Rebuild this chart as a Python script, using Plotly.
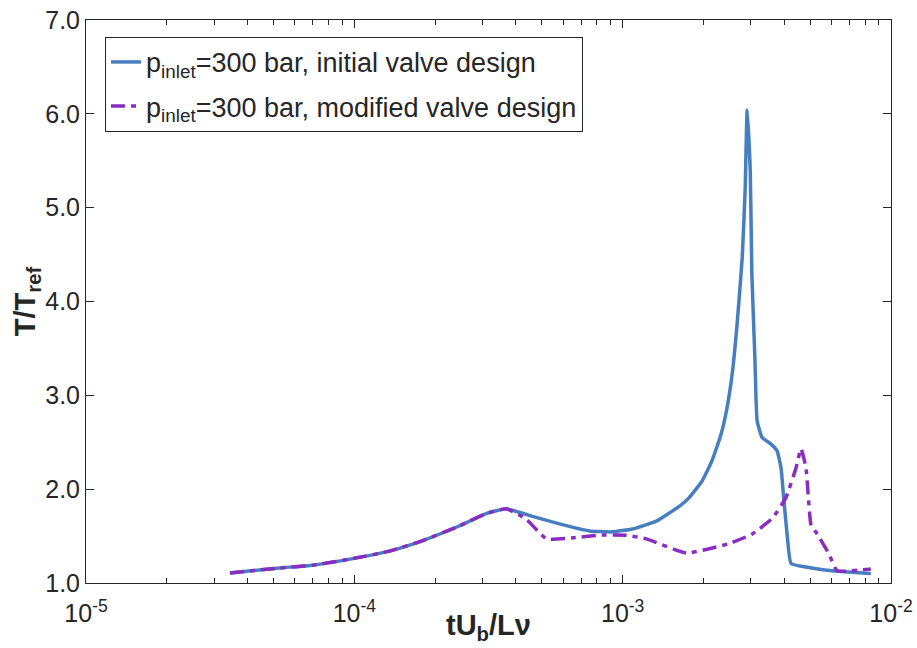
import plotly.graph_objects as go

# ---- data ----
x_initial = [3.44e-5, 5.27e-5, 7.0e-5, 9.87e-5, 1.35e-4, 1.79e-4, 2.47e-4, 3.10e-4, 3.69e-4,
             4.61e-4, 5.81e-4, 7.52e-4, 9.14e-4, 1.087e-3, 1.334e-3, 1.63e-3, 1.77e-3, 1.98e-3,
             2.15e-3, 2.33e-3, 2.45e-3, 2.56e-3, 2.67e-3, 2.79e-3, 2.86e-3, 2.91e-3, 2.99e-3,
             3.03e-3, 3.11e-3, 3.17e-3, 3.31e-3, 3.57e-3, 3.76e-3, 3.89e-3, 3.99e-3, 4.10e-3,
             4.24e-3, 4.82e-3, 6.03e-3, 7.60e-3, 8.41e-3]
y_initial = [1.107, 1.16, 1.19, 1.26, 1.34, 1.45, 1.61, 1.74, 1.79,
             1.71, 1.63, 1.555, 1.545, 1.576, 1.66, 1.82, 1.91, 2.09,
             2.30, 2.59, 2.87, 3.23, 3.76, 4.47, 5.18, 6.04, 5.37,
             4.30, 3.40, 2.73, 2.55, 2.48, 2.41, 2.23, 1.88, 1.52,
             1.21, 1.17, 1.13, 1.11, 1.10]

x_modified = [3.44e-5, 5.27e-5, 7.0e-5, 9.87e-5, 1.35e-4, 1.79e-4, 2.47e-4, 3.10e-4, 3.69e-4,
              4.37e-4, 5.20e-4, 6.48e-4, 8.18e-4, 1.03e-3, 1.225e-3, 1.73e-3, 2.49e-3, 3.03e-3,
              3.61e-3, 4.06e-3, 4.43e-3, 4.62e-3, 4.82e-3, 5.04e-3, 5.26e-3, 5.87e-3, 6.30e-3,
              8.41e-3]
y_modified = [1.107, 1.16, 1.19, 1.26, 1.34, 1.45, 1.61, 1.74, 1.79,
              1.68, 1.47, 1.48, 1.51, 1.51, 1.47, 1.32, 1.42, 1.52,
              1.69, 1.91, 2.23, 2.43, 2.23, 1.61, 1.54, 1.31, 1.13,
              1.15]

x_tick_vals = [1e-5, 1e-4, 1e-3, 1e-2]
x_tick_text = ["10<sup>-5</sup>", "10<sup>-4</sup>", "10<sup>-3</sup>", "10<sup>-2</sup>"]
x_minor_vals = [m * 10.0 ** e for e in (-5, -4, -3) for m in range(2, 10)]
y_tick_vals = [1, 2, 3, 4, 5, 6, 7]

name_initial = "p<sub>inlet</sub>=300 bar, initial valve design"
name_modified = "p<sub>inlet</sub>=300 bar, modified valve design"
x_title = "<b>tU<sub>b</sub>/Lν</b>"
y_title = "<b>T/T<sub>ref</sub></b>"

BLUE = "#477ec0"
PURPLE = "#8a2cc0"
INK = "#262626"
FONT = "Liberation Sans, Arial, sans-serif"

fig = go.Figure()
fig.add_trace(go.Scatter(x=x_initial, y=y_initial, mode="lines", name=name_initial,
                         legendgroup="a",
                         line=dict(color=BLUE, width=3.5, shape="spline", smoothing=0.4)))
fig.add_trace(go.Scatter(x=x_modified, y=y_modified, mode="lines", name=name_modified,
                         legendgroup="b",
                         line=dict(color=PURPLE, width=3.5, dash="14px,6px,5px,6px",
                                   shape="spline", smoothing=0.4)))

fig.update_layout(
    width=917, height=648,
    margin=dict(l=86, r=26, t=20, b=65),
    paper_bgcolor="white", plot_bgcolor="white",
    font=dict(family=FONT, size=24, color=INK),
    showlegend=True,
    legend=dict(x=0.0236, y=0.970, xanchor="left", yanchor="top",
                bgcolor="white", bordercolor=INK, borderwidth=1,
                font=dict(family=FONT, size=27, color=INK),
                tracegroupgap=6, itemwidth=30),
    annotations=[dict(text=x_title, xref="paper", yref="paper", x=0.5, y=-0.078,
                      xanchor="center", yanchor="middle", showarrow=False,
                      font=dict(family=FONT, size=29, color=INK))],
)

fig.update_xaxes(
    type="log", range=[-5, -2], automargin=False,
    tickmode="array", tickvals=x_tick_vals, ticktext=x_tick_text,
    ticks="inside", ticklen=8, tickcolor=INK, tickwidth=1,
    ticklabelstandoff=8,
    minor=dict(tickmode="array", tickvals=x_minor_vals, ticks="inside", ticklen=5,
               tickcolor=INK, showgrid=False),
    showline=True, linecolor=INK, linewidth=1, mirror="ticks",
    showgrid=False, zeroline=False,
    tickfont=dict(size=25),
)
fig.update_yaxes(
    range=[1, 7], automargin=False,
    tickmode="array", tickvals=y_tick_vals, tickformat=".1f",
    ticks="inside", ticklen=8, tickcolor=INK, tickwidth=1,
    showline=True, linecolor=INK, linewidth=1, mirror="ticks",
    showgrid=False, zeroline=False,
    tickfont=dict(size=25),
    title=dict(text=y_title, font=dict(size=29), standoff=0),
)

fig.write_html("out.html", config={"displayModeBar": False},
               post_script="document.body.style.margin='0';document.body.style.padding='0';")
